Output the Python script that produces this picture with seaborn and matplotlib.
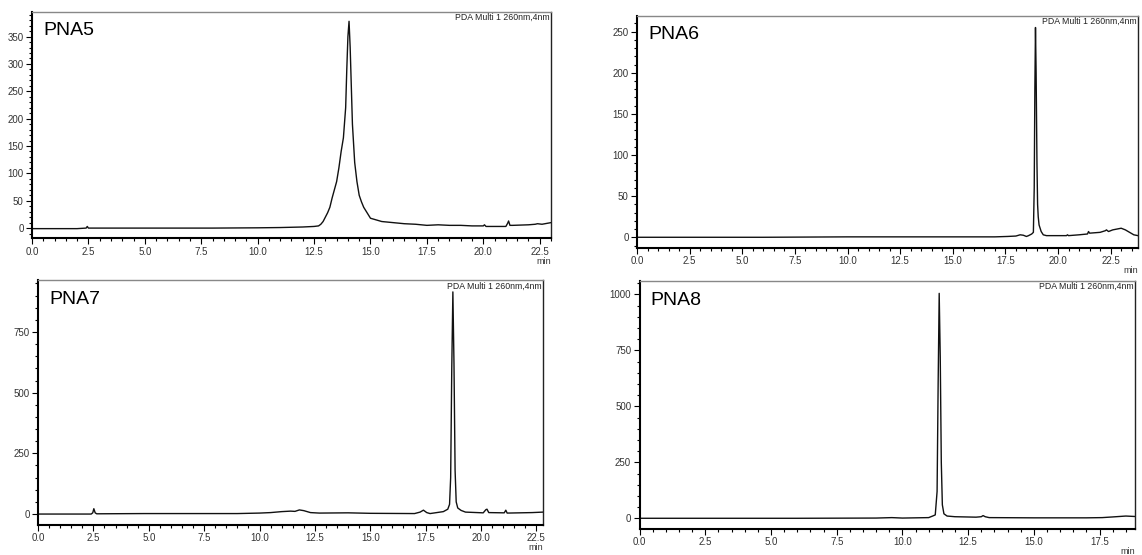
import numpy as np
import pandas as pd
import seaborn as sns
import matplotlib.pyplot as plt
from matplotlib.ticker import MultipleLocator

# retention time (min) and absorbance (mAU)
pna5_t = [0.0, 2.0, 2.4, 2.45, 2.5, 5.0, 8.0, 10.0, 11.0, 12.0, 12.5, 12.7, 12.8, 12.9, 13.0,
          13.1, 13.2, 13.3, 13.4, 13.5, 13.6, 13.7, 13.8, 13.9, 13.95, 14.0, 14.05, 14.1, 14.15,
          14.2, 14.3, 14.4, 14.5, 14.6, 14.7, 14.85, 15.0, 15.5, 16.0, 16.5, 17.0, 17.5, 18.0,
          18.5, 19.0, 19.5, 20.0, 20.05, 20.12, 20.5, 21.0, 21.08, 21.12, 21.18, 21.3, 22.0,
          22.3, 22.4, 22.6, 23.0]
pna5_y = [-1, -1, 0, 3, 0, 0, 0, 0.5, 1, 2, 3, 4, 7, 12, 20,
          28, 38, 55, 70, 85, 110, 140, 165, 220, 290, 350, 378, 330, 260,
          190, 120, 85, 60, 48, 38, 28, 18, 12, 10, 8, 7, 5, 6,
          5, 5, 4, 4, 6, 3, 3, 3, 9, 13, 5, 5, 6,
          7, 8, 7, 10]

pna6_t = [0.0, 3.0, 6.0, 10.0, 14.0, 17.0, 17.6, 18.0, 18.2, 18.35, 18.5, 18.6, 18.75, 18.83,
          18.87, 18.9, 18.93, 18.96, 19.0, 19.03, 19.06, 19.1, 19.2, 19.3, 19.45, 19.7, 20.4,
          20.45, 20.5, 21.0, 21.4, 21.45, 21.5, 22.0, 22.25, 22.3, 22.4, 22.6, 22.8, 23.0,
          23.2, 23.4, 23.6, 23.8]
pna6_y = [0, 0, 0, 0.5, 0.5, 0.5, 1, 1.5, 3, 2.5, 1, 2, 4, 6,
          60, 180, 255, 200, 90, 40, 25, 15, 7, 3, 2, 2, 2,
          3, 2, 3, 4, 7, 5, 6, 8, 9, 7, 9, 10, 11,
          9, 6, 3, 2]

pna7_t = [0.0, 2.4, 2.47, 2.52, 2.58, 2.65, 4.8, 6.5, 9.0, 10.0, 10.5, 11.0, 11.4, 11.6, 11.8,
          12.0, 12.3, 12.7, 14.0, 15.0, 17.0, 17.25, 17.4, 17.55, 17.7, 18.3, 18.5, 18.58,
          18.63, 18.68, 18.73, 18.78, 18.83, 18.88, 18.95, 19.1, 19.3, 20.1, 20.22, 20.27,
          20.35, 21.05, 21.12, 21.18, 22.3, 22.8]
pna7_y = [0, 0, 5, 22, 5, 1, 2, 2, 2, 4, 6, 10, 12, 11, 17,
          14, 6, 4, 5, 3, 2, 8, 16, 6, 2, 10, 20, 40,
          150, 600, 915, 620, 180, 50, 25, 15, 8, 5, 18, 20,
          6, 5, 16, 4, 6, 8]

pna8_t = [0.0, 3.0, 6.0, 9.0, 9.6, 10.0, 11.0, 11.15, 11.25, 11.32, 11.36, 11.4, 11.44,
          11.48, 11.52, 11.58, 11.7, 12.0, 12.8, 13.0, 13.07, 13.15, 13.3, 15.0, 17.0, 17.6,
          18.0, 18.5, 18.85]
pna8_y = [0, 0, 0, 1, 3, 1, 3, 10, 15, 120, 600, 1005, 720,
          250, 60, 20, 10, 7, 5, 7, 12, 7, 3, 2, 2, 3,
          6, 10, 8]

names = ['PNA5', 'PNA6', 'PNA7', 'PNA8']
traces = [(pna5_t, pna5_y), (pna6_t, pna6_y), (pna7_t, pna7_y), (pna8_t, pna8_y)]
xlims = [(0, 23.0), (0, 23.8), (0, 22.8), (0, 18.85)]
ylims = [(-19, 395), (-13, 269), (-45, 962), (-48, 1060)]
ymajor = [50, 50, 250, 250]
yminor = [10, 10, 50, 50]

sns.set_theme(style='white')
plt.rcParams['font.family'] = ['Liberation Sans', 'DejaVu Sans']

fig = plt.figure(figsize=(11.42, 5.55), dpi=100)
boxes = [[0.0280, 0.5703, 0.4545, 0.4081],
         [0.5578, 0.5532, 0.4387, 0.4180],
         [0.0333, 0.0541, 0.4422, 0.4405],
         [0.5600, 0.0468, 0.4339, 0.4468]]

for i in range(4):
    ax = fig.add_axes(boxes[i])
    df = pd.DataFrame({'t': traces[i][0], 'mAU': traces[i][1]})
    sns.lineplot(data=df, x='t', y='mAU', ax=ax, color='#111111', lw=1.0)
    ax.set_xlim(xlims[i])
    ax.set_ylim(ylims[i])
    ax.set_xlabel('')
    ax.set_ylabel('')
    ax.xaxis.set_major_locator(MultipleLocator(2.5))
    ax.xaxis.set_minor_locator(MultipleLocator(0.5))
    ax.yaxis.set_major_locator(MultipleLocator(ymajor[i]))
    ax.yaxis.set_minor_locator(MultipleLocator(yminor[i]))
    ax.xaxis.set_major_formatter(plt.FuncFormatter(lambda v, p: '%.1f' % v))
    ax.tick_params(axis='both', which='major', direction='out', length=4, width=0.8,
                   labelsize=7, labelcolor='#333333', color='black', pad=2,
                   bottom=True, left=True)
    ax.tick_params(axis='both', which='minor', direction='out', length=2, width=0.8,
                   color='black', bottom=True, left=True)
    for s in ['left', 'bottom']:
        ax.spines[s].set_color('black')
        ax.spines[s].set_linewidth(1.5)
    ax.spines['top'].set_color('#888888')
    ax.spines['top'].set_linewidth(1.0)
    ax.spines['right'].set_color('#222222')
    ax.spines['right'].set_linewidth(1.0)
    ax.text(0.022, 0.955, names[i], transform=ax.transAxes, ha='left', va='top',
            fontsize=14, color='black')
    ax.text(0.998, 0.995, 'PDA Multi 1 260nm,4nm', transform=ax.transAxes, ha='right',
            va='top', fontsize=6.3, color='#222222')
    ax.annotate('min', xy=(1, 0), xycoords='axes fraction', xytext=(0, -13),
                textcoords='offset points', ha='right', va='top', fontsize=6.5,
                color='#333333')

fig.savefig('out.png', dpi=100)
